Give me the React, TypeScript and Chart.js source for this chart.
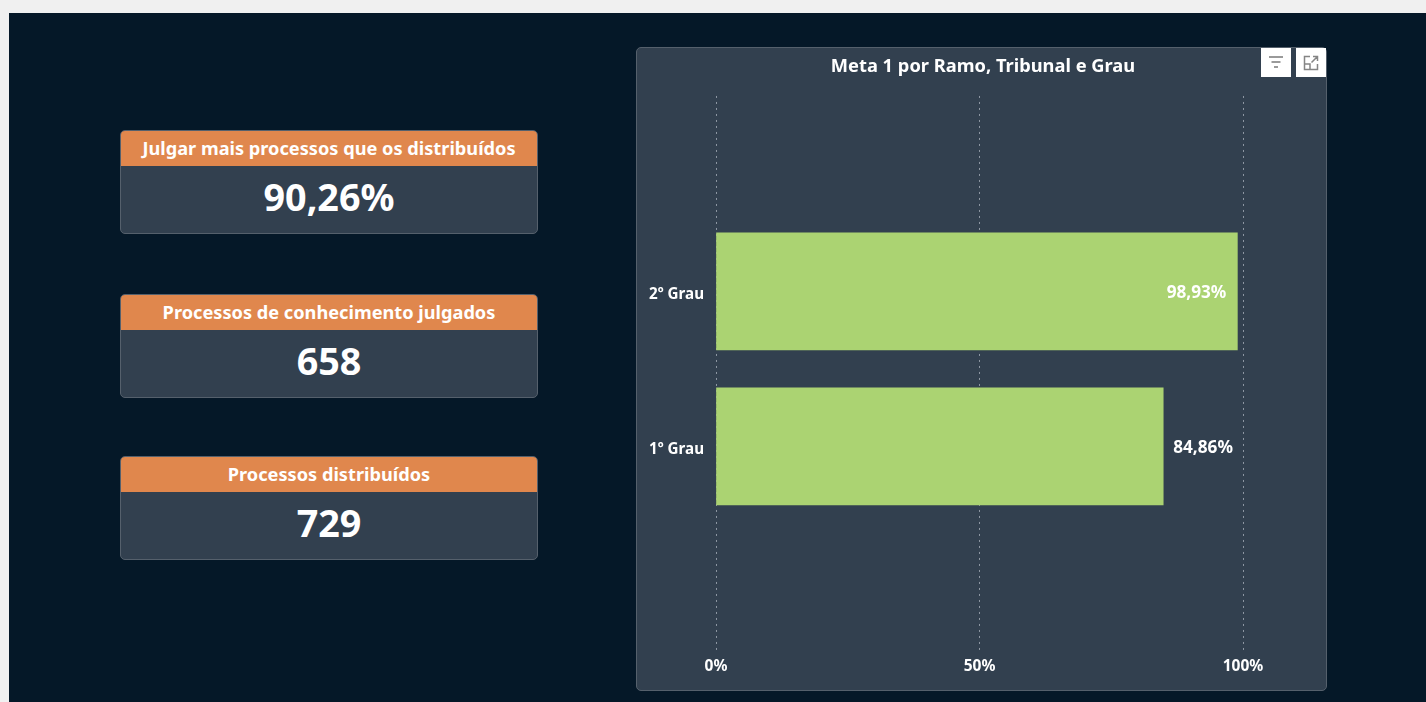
import React, { useEffect, useRef } from "react";
import { Chart, registerables } from "chart.js";

Chart.register(...registerables);

const categories = ["2º Grau", "1º Grau"];
const values = [98.93, 84.86];
const valueLabels = ["98,93%", "84,86%"];
const xTicks = [0, 50, 100];
const title = "Meta 1 por Ramo, Tribunal e Grau";
const cardTitles = ["Julgar mais processos que os distribuídos", "Processos de conhecimento julgados", "Processos distribuídos"];
const cardValues = ["90,26%", "658", "729"];
const cardTops = [130, 294, 456];

const FONT = '"Noto Sans", sans-serif';
const PANEL = "#32404f";

const labelsPlugin = {
  id: "valueLabels",
  afterDatasetsDraw(chart: any) {
    const ctx = chart.ctx;
    const meta = chart.getDatasetMeta(0);
    ctx.save();
    ctx.font = `700 17.2px ${FONT}`;
    ctx.fillStyle = "#ffffff";
    ctx.textBaseline = "middle";
    meta.data.forEach((bar: any, i: number) => {
      const inside = values[i] > 90;
      ctx.textAlign = inside ? "right" : "left";
      ctx.fillText(valueLabels[i], bar.x + (inside ? -11 : 10), bar.y + 2);
    });
    ctx.restore();
  },
};

function FilterIcon() {
  return (
    <svg width="30" height="30" viewBox="0 0 30 30" style={{ display: "block" }}>
      <path d="M8 9h14M10.5 14h9M13 19h4" stroke="#7a7a7a" strokeWidth="1.5" fill="none" />
    </svg>
  );
}

function FocusIcon() {
  return (
    <svg width="30" height="30" viewBox="0 0 30 30" style={{ display: "block" }}>
      <path d="M14 8.5H8.5v13h13V16M17 8.5h4.5V13M21.5 8.5l-6 6M8.5 16h5.5v5.5" stroke="#858585" strokeWidth="1.5" fill="none" />
    </svg>
  );
}

export default function App() {
  const ref = useRef<HTMLCanvasElement>(null);

  useEffect(() => {
    document.body.style.margin = "0";
    document.body.style.background = "#f0f0f0";
    const chart = new Chart(ref.current!, {
      type: "bar",
      data: {
        datasets: [
          {
            data: values.map((v, i) => ({ x: v, y: i })),
            backgroundColor: "#abd372",
            barThickness: 117,
            yAxisID: "y",
          },
        ],
      },
      plugins: [labelsPlugin],
      options: {
        indexAxis: "y",
        animation: false,
        responsive: false,
        layout: { padding: 0 },
        plugins: {
          legend: { display: false },
          tooltip: { enabled: false },
          title: {
            display: true,
            text: title,
            color: "#ffffff",
            font: { family: FONT, size: 18.3, weight: 700 },
            padding: { top: 9, bottom: 18 },
          },
        },
        scales: {
          x: {
            type: "linear",
            min: 0,
            max: 100,
            afterBuildTicks: (s: any) => {
              s.ticks = xTicks.map((value) => ({ value }));
            },
            afterFit: (s: any) => {
              s.height = 38;
            },
            border: { display: false, dash: [2, 4] },
            grid: { color: "rgba(205,212,222,0.6)", lineWidth: 1, tickLength: 0, drawTicks: false },
            ticks: {
              color: "#ffffff",
              font: { family: FONT, size: 15.5, weight: 700 },
              padding: 5,
              maxRotation: 0,
              callback: (v: any) => `${v}%`,
            },
          },
          y: {
            type: "linear",
            reverse: true,
            offset: false,
            min: -1.26,
            max: 2.326,
            afterBuildTicks: (s: any) => {
              s.ticks = categories.map((_, value) => ({ value }));
            },
            afterFit: (s: any) => {
              s.width = 80;
            },
            border: { display: false },
            grid: { display: false, drawTicks: false },
            ticks: {
              color: "#ffffff",
              font: { family: FONT, size: 15.2, weight: 700 },
              padding: 12,
              labelOffset: 3,
              callback: (v: any) => categories[v] ?? "",
            },
          },
          rightGutter: {
            type: "linear",
            position: "right",
            afterFit: (s: any) => {
              s.width = 87;
            },
            border: { display: false },
            grid: { display: false, drawTicks: false },
            ticks: { display: false },
          },
        },
      } as any,
    });
    return () => chart.destroy();
  }, []);

  return (
    <div style={{ position: "relative", width: 1426, height: 702, overflow: "hidden", background: "#f0f0f0", fontFamily: FONT, filter: "blur(0.45px)" }}>
      <div style={{ position: "absolute", left: 9, top: 13, width: 1417, height: 689, background: "#051828" }} />
      {cardTitles.map((t, i) => (
        <div
          key={t}
          style={{
            position: "absolute",
            left: 120,
            top: cardTops[i],
            width: 418,
            height: 104,
            boxSizing: "border-box",
            background: PANEL,
            border: "1px solid #55606c",
            borderRadius: 5,
            overflow: "hidden",
            color: "#fff",
            textAlign: "center",
          }}
        >
          <div style={{ height: 35, lineHeight: "34px", background: "#e0874d", fontSize: 18.2, fontWeight: 700, whiteSpace: "nowrap" }}>{t}</div>
          <div style={{ height: 62, lineHeight: "61px", fontSize: 37.7, fontWeight: 700 }}>{cardValues[i]}</div>
        </div>
      ))}
      <div
        style={{
          position: "absolute",
          left: 636,
          top: 47,
          width: 691,
          height: 644,
          boxSizing: "border-box",
          background: PANEL,
          border: "1px solid #55606c",
          borderRadius: 5,
        }}
      />
      <canvas ref={ref} width={694} height={643} style={{ position: "absolute", left: 636, top: 47, width: 694, height: 643 }} />
      <div style={{ position: "absolute", left: 1261, top: 48, width: 30, height: 29, background: "#fff" }}>
        <FilterIcon />
      </div>
      <div style={{ position: "absolute", left: 1296, top: 48, width: 30, height: 29, background: "#fff" }}>
        <FocusIcon />
      </div>
    </div>
  );
}
